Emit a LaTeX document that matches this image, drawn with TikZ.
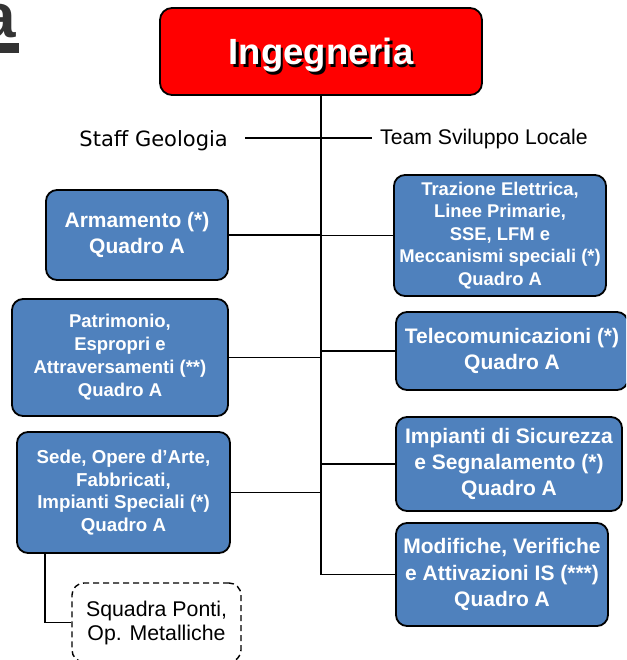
\documentclass[tikz,border=0pt]{standalone}
\usepackage{fontspec}
\setmainfont{Liberation Sans}
\newfontfamily\dvs{DejaVu Sans}
\definecolor{boxblue}{HTML}{4F81BD}
\definecolor{titlegray}{HTML}{333333}
\begin{document}
\begin{tikzpicture}[x=1pt,y=-1pt,
  bluebox/.style={draw=black, line width=1.8pt, fill=boxblue, rounded corners=11pt,
    text=white, font=\bfseries, align=center, inner sep=0pt},
  redbox/.style={draw=black, line width=1.8pt, fill=red, rounded corners=12pt, inner sep=0pt},
  dashbox/.style={draw=black, line width=1.4pt, dash pattern=on 6pt off 4pt, rounded corners=12pt,
    fill=white, align=center, inner sep=0pt},
  conn/.style={draw=black, line width=1.4pt},
  plain/.style={inner sep=0pt}]
\useasboundingbox (0,0) rectangle (626,660);
\clip (0,0) rectangle (626,660);

% cropped title letter
\node[plain, anchor=base east, text=titlegray, font=\bfseries\fontsize{62}{62}\selectfont] (tit) at (16,38) {a};
\fill[titlegray] (0,43) rectangle (19,53);

% top box
\node[redbox, minimum width=322pt, minimum height=87pt] (ing) at (321,51.5) {};
\node[plain, anchor=base, text=black, font=\bfseries\fontsize{36.5}{40}\selectfont] (ingsh) at (323.5,67.5) {Ingegneria};
\node[plain, anchor=base, text=white, font=\bfseries\fontsize{36.5}{40}\selectfont] (ingt) at (321,65) {Ingegneria};

% staff lines
\node[plain, anchor=base east, font=\dvs\fontsize{21}{25}\selectfont] (staff) at (228,147) {Staff Geologia};
\node[plain, anchor=base west, font=\fontsize{21.2}{25}\selectfont] (team) at (380,145) {Team Sviluppo Locale};
\coordinate (sl) at (245,138);
\coordinate (tr) at (372,138);

% left boxes
\node[bluebox, minimum width=182pt, minimum height=90pt, font=\bfseries\fontsize{21}{26}\selectfont] (arm) at (137,235) {Armamento (*)\\Quadro A};
\node[bluebox, minimum width=216pt, minimum height=117pt, font=\bfseries\fontsize{18.5}{23}\selectfont] (pat) at (120,357.5) {Patrimonio,\\Espropri e\\Attraversamenti (**)\\Quadro A};
\node[bluebox, minimum width=213pt, minimum height=121pt, font=\bfseries\fontsize{18.7}{22.5}\selectfont] (sede) at (123.5,492.5) {Sede, Opere d’Arte,\\Fabbricati,\\Impianti Speciali (*)\\Quadro A};
\node[dashbox, minimum width=169pt, minimum height=79pt, font=\fontsize{21.3}{24}\selectfont] (squ) at (156.5,622.5) {Squadra Ponti,\\Op. Metalliche};

% right boxes
\node[bluebox, minimum width=212pt, minimum height=121pt, font=\bfseries\fontsize{18.4}{22.5}\selectfont] (traz) at (500,235.5) {Trazione Elettrica,\\Linee Primarie,\\SSE, LFM e\\Meccanismi speciali (*)\\Quadro A};
\node[bluebox, minimum width=232pt, minimum height=78pt, font=\bfseries\fontsize{21}{26.7}\selectfont] (tel) at (512,351) {Telecomunicazioni (*)\\Quadro A};
\node[bluebox, minimum width=226pt, minimum height=94pt, font=\bfseries\fontsize{21}{26}\selectfont] (imp) at (509,464) {Impianti di Sicurezza\\e Segnalamento (*)\\Quadro A};
\node[bluebox, minimum width=212pt, minimum height=103pt, font=\bfseries\fontsize{21}{26.5}\selectfont] (mod) at (502,574.5) {Modifiche, Verifiche\\e Attivazioni IS (***)\\Quadro A};

% connectors
\coordinate (tb) at (mod.west -| ing.south);
\draw[conn] (ing.south) -- (tb) -- (mod.west);
\draw[conn] (sl) -- (tr);
\draw[conn] (arm.east) -- (arm.east -| tb);
\draw[conn] (pat.east) -- (pat.east -| tb);
\draw[conn] (sede.east) -- (sede.east -| tb);
\draw[conn] (traz.west) -- (traz.west -| tb);
\draw[conn] (tel.west) -- (tel.west -| tb);
\draw[conn] (imp.west) -- (imp.west -| tb);
\draw[conn, line width=1.2pt] ([xshift=-78.5pt]sede.south) |- (squ.west);
\end{tikzpicture}
\end{document}
